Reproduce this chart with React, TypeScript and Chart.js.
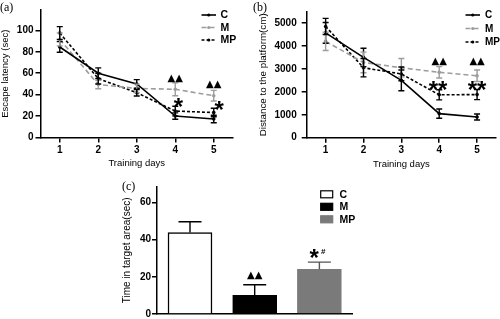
import React, { useEffect, useRef } from 'react';
import { Chart, registerables } from 'chart.js';

Chart.register(...registerables);

const SANS = '"Liberation Sans", Arial, sans-serif';
const SERIF = '"Liberation Serif", "Times New Roman", serif';

// ---------- data ----------
const trainingDays = ['1', '2', '3', '4', '5'];
const groupNames = ['C', 'M', 'MP'];

// (a) escape latency (sec)
const latencyC = [84.5, 60, 50, 20, 17.2];
const latencyM = [91.5, 49.5, 45.8, 45, 39];
const latencyMP = [97.5, 55, 41.8, 24.7, 23.3];
const latencyErrC = [5, 5, 4, 3, 3.5];
const latencyErrM = [6, 4, 4, 6, 5];
const latencyErrMP = [6, 5, 3, 4.5, 4];
const latencyTicks = [0, 20, 40, 60, 80, 100];
const latencyMax = 119;

// (b) distance to the platform (cm)
const distanceC = [4570, 3500, 2500, 1050, 900];
const distanceM = [4200, 3280, 3050, 2850, 2700];
const distanceMP = [4850, 3050, 2780, 1870, 1880];
const distanceErrC = [450, 400, 450, 200, 130];
const distanceErrM = [400, 450, 400, 250, 250];
const distanceErrMP = [350, 400, 300, 220, 220];
const distanceTicks = [0, 1000, 2000, 3000, 4000, 5000];
const distanceMax = 5480;

// (c) time in target area (sec)
const targetTime = [43.8, 10, 24.1];
const targetTimeErr = [5.8, 5.7, 3.8];
const targetTicks = [0, 20, 40, 60];
const targetMax = 68.5;

// significance marks (data coordinates)
const latencyMarks = [
  { x: 3, y: 55, text: '▲▲', kind: 'tri' },
  { x: 4, y: 49.8, text: '▲▲', kind: 'tri' },
  { x: 3.08, y: 33, text: '*', kind: 'star' },
  { x: 4.14, y: 29.6, text: '*', kind: 'star' },
];
const distanceMarks = [
  { x: 3, y: 3335, text: '▲▲', kind: 'tri' },
  { x: 4, y: 3335, text: '▲▲', kind: 'tri' },
  { x: 2.97, y: 2290, text: '**', kind: 'star' },
  { x: 4, y: 2290, text: '**', kind: 'star' },
];
const targetMarks = [
  { x: 1, y: 20.5, text: '▲▲', kind: 'tri' },
  { x: 1.92, y: 32.7, text: '*', kind: 'star' },
  { x: 2.06, y: 33.6, text: '#', kind: 'hash' },
];

// ---------- plugins ----------
const markFonts: Record<string, string> = {
  tri: '10px "DejaVu Sans", sans-serif',
  star: `bold 24px ${SANS}`,
  hash: `bold 8px ${SANS}`,
};

function marksPlugin(items: any[]) {
  return {
    id: 'marks',
    afterDatasetsDraw(chart: any) {
      const ctx = chart.ctx;
      const xs = chart.scales.x;
      const ys = chart.scales.y;
      ctx.save();
      items.forEach((m) => {
        ctx.font = markFonts[m.kind];
        ctx.fillStyle = '#000';
        ctx.textAlign = 'center';
        ctx.textBaseline = 'alphabetic';
        const px = xs.getPixelForValue(m.x);
        const py = ys.getPixelForValue(m.y);
        const mt = ctx.measureText(m.text);
        const asc = mt.actualBoundingBoxAscent;
        const desc = mt.actualBoundingBoxDescent;
        ctx.fillText(m.text, px, py + (asc - desc) / 2);
      });
      ctx.restore();
    },
  };
}

function errorBarPlugin(capHalf: number, upOnly: boolean) {
  return {
    id: 'errorBars',
    afterDatasetsDraw(chart: any) {
      const ctx = chart.ctx;
      chart.data.datasets.forEach((ds: any, di: number) => {
        const errs = ds.errorBars;
        if (!errs) return;
        const meta = chart.getDatasetMeta(di);
        const ys = chart.scales[meta.yAxisID];
        ctx.save();
        ctx.lineWidth = 1.4;
        ctx.setLineDash([]);
        meta.data.forEach((el: any, i: number) => {
          const raw = ds.data[i];
          const v = typeof raw === 'number' ? raw : raw.y;
          ctx.strokeStyle = Array.isArray(ds.errorColor) ? ds.errorColor[i] : ds.errorColor;
          const x = el.x;
          const yTop = ys.getPixelForValue(v + errs[i]);
          const yBot = upOnly ? ys.getPixelForValue(v) : ys.getPixelForValue(v - errs[i]);
          ctx.beginPath();
          ctx.moveTo(x, yTop);
          ctx.lineTo(x, yBot);
          ctx.moveTo(x - capHalf, yTop);
          ctx.lineTo(x + capHalf, yTop);
          if (!upOnly) {
            ctx.moveTo(x - capHalf, yBot);
            ctx.lineTo(x + capHalf, yBot);
          }
          ctx.stroke();
        });
        ctx.restore();
      });
    },
  };
}

function lineLegendPlugin(cfg: { x0: number; x1: number; textX: number; top: number; gap: number; font: string }) {
  return {
    id: 'lineLegend',
    afterDraw(chart: any) {
      const ctx = chart.ctx;
      ctx.save();
      chart.data.datasets.forEach((ds: any, i: number) => {
        const y = cfg.top + i * cfg.gap;
        ctx.strokeStyle = ds.borderColor;
        ctx.lineWidth = ds.borderWidth;
        ctx.setLineDash(ds.borderDash || []);
        ctx.beginPath();
        ctx.moveTo(cfg.x0, y);
        ctx.lineTo(cfg.x1, y);
        ctx.stroke();
        ctx.setLineDash([]);
        ctx.fillStyle = ds.borderColor;
        ctx.beginPath();
        ctx.arc((cfg.x0 + cfg.x1) / 2, y, 1.6, 0, Math.PI * 2);
        ctx.fill();
        ctx.fillStyle = '#000';
        ctx.font = cfg.font;
        ctx.textAlign = 'left';
        ctx.textBaseline = 'middle';
        ctx.fillText(ds.label, cfg.textX, y + 0.5);
      });
      ctx.restore();
    },
  };
}

function boxLegendPlugin(cfg: { x: number; w: number; h: number; textX: number; top: number; gap: number; font: string }) {
  return {
    id: 'boxLegend',
    afterDraw(chart: any) {
      const ctx = chart.ctx;
      const ds = chart.data.datasets[0];
      ctx.save();
      chart.data.labels.forEach((label: string, i: number) => {
        const y = cfg.top + i * cfg.gap;
        ctx.fillStyle = ds.backgroundColor[i];
        ctx.fillRect(cfg.x, y - cfg.h / 2, cfg.w, cfg.h);
        ctx.strokeStyle = ds.borderColor[i];
        ctx.lineWidth = 1.2;
        ctx.strokeRect(cfg.x, y - cfg.h / 2, cfg.w, cfg.h);
        ctx.fillStyle = '#000';
        ctx.font = cfg.font;
        ctx.textAlign = 'left';
        ctx.textBaseline = 'middle';
        ctx.fillText(label, cfg.textX, y + 0.5);
      });
      ctx.restore();
    },
  };
}

// ---------- axes ----------
const tickFont = { family: SANS, size: 10, weight: 'bold' };

function yAxis(tickVals: number[], max: number, title: string, width: number, titlePadTop: number, labelPad: number, titleSize: number) {
  return {
    type: 'linear',
    min: 0,
    max,
    afterBuildTicks: (s: any) => {
      s.ticks = tickVals.map((v) => ({ value: v }));
    },
    afterFit: (s: any) => {
      s.width = width;
    },
    ticks: { color: '#000', font: tickFont, padding: labelPad, callback: (v: any) => String(v) },
    grid: { drawOnChartArea: false, color: '#000', lineWidth: 1.5, tickLength: 5 },
    border: { color: '#000', width: 1.5 },
    title: {
      display: true,
      text: title,
      color: '#000',
      font: { family: SANS, size: titleSize },
      padding: { top: titlePadTop, bottom: 0 },
    },
  };
}

function dayAxis(height: number, titlePadBottom: number) {
  return {
    type: 'category',
    offset: true,
    afterFit: (s: any) => {
      s.height = height;
    },
    ticks: { color: '#000', font: tickFont, padding: 2, maxRotation: 0 },
    grid: { drawOnChartArea: false, color: '#000', lineWidth: 1.5, tickLength: 5, offset: false },
    border: { color: '#000', width: 1.5 },
    title: {
      display: true,
      text: 'Training days',
      color: '#000',
      font: { family: SANS, size: 9.5 },
      padding: { top: 0, bottom: titlePadBottom },
    },
  };
}

function lineSets(c: number[], m: number[], mp: number[], ec: number[], em: number[], emp: number[]) {
  const gray = '#9d9d9d';
  return [
    { label: groupNames[0], data: c, borderColor: '#000', backgroundColor: '#000', borderWidth: 1.6, pointRadius: 1.8, pointBorderWidth: 0, errorBars: ec, errorColor: '#000' },
    { label: groupNames[1], data: m, borderColor: gray, backgroundColor: gray, borderWidth: 1.6, borderDash: [5, 3], pointRadius: 1.8, pointBorderWidth: 0, errorBars: em, errorColor: gray },
    { label: groupNames[2], data: mp, borderColor: '#000', backgroundColor: '#000', borderWidth: 1.6, borderDash: [3, 2], pointRadius: 1.8, pointBorderWidth: 0, errorBars: emp, errorColor: '#000' },
  ];
}

const baseOptions = {
  responsive: false,
  animation: false,
  events: [],
  plugins: { legend: { display: false }, tooltip: { enabled: false }, title: { display: false } },
  elements: { line: { tension: 0 } },
};

function ChartCanvas({ width, height, left, top, make }: any) {
  const ref = useRef<HTMLCanvasElement | null>(null);
  useEffect(() => {
    const chart = new Chart(ref.current as HTMLCanvasElement, make());
    return () => chart.destroy();
  }, []);
  return (
    <canvas
      ref={ref}
      width={width}
      height={height}
      style={{ position: 'absolute', left, top, width, height, display: 'block' }}
    />
  );
}

const makeLatency = () => ({
  type: 'line',
  data: { labels: trainingDays, datasets: lineSets(latencyC, latencyM, latencyMP, latencyErrC, latencyErrM, latencyErrMP) },
  options: {
    ...baseOptions,
    layout: { padding: { top: 10, right: 17, left: 0, bottom: 0 } },
    scales: {
      x: dayAxis(37.5, 5.8),
      y: yAxis(latencyTicks, latencyMax, 'Escape latency (sec)', 40.5, 0, 2, 9.5),
    },
  },
  plugins: [
    errorBarPlugin(3, false),
    marksPlugin(latencyMarks),
    lineLegendPlugin({ x0: 201.5, x1: 216, textX: 220.5, top: 15, gap: 12.5, font: `bold 10.5px ${SANS}` }),
  ],
});

const makeDistance = () => ({
  type: 'line',
  data: { labels: trainingDays, datasets: lineSets(distanceC, distanceM, distanceMP, distanceErrC, distanceErrM, distanceErrMP) },
  options: {
    ...baseOptions,
    layout: { padding: { top: 12, right: 3, left: 0, bottom: 0 } },
    scales: {
      x: dayAxis(37.3, 5.3),
      y: yAxis(distanceTicks, distanceMax, 'Distance to the platform(cm)', 56.7, 7, 5, 9.8),
    },
  },
  plugins: [
    errorBarPlugin(3, false),
    marksPlugin(distanceMarks),
    lineLegendPlugin({ x0: 215.5, x1: 230, textX: 235, top: 15, gap: 13.5, font: `bold 10px ${SANS}` }),
  ],
});

const makeTarget = () => ({
  type: 'bar',
  data: {
    labels: groupNames,
    datasets: [
      {
        label: 'Time in target area',
        data: targetTime.map((v, i) => ({ x: i, y: v })),
        backgroundColor: ['#ffffff', '#000000', '#7a7a7a'],
        borderColor: ['#000000', '#000000', '#7a7a7a'],
        borderWidth: 1.5,
        barThickness: 44,
        errorBars: targetTimeErr,
        errorColor: ['#000000', '#000000', '#555555'],
      },
    ],
  },
  options: {
    ...baseOptions,
    layout: { padding: { top: 16.7, right: 8, left: 0, bottom: 0 } },
    scales: {
      x: {
        type: 'linear',
        offset: false,
        bounds: 'ticks',
        min: -0.51,
        max: 2.504,
        afterFit: (s: any) => {
          s.height = 6.7;
        },
        ticks: { display: false },
        grid: { display: false, offset: false },
        border: { color: '#000', width: 1.5 },
      },
      y: yAxis(targetTicks, targetMax, 'Time in target area(sec)', 57, 21, 1, 10),
    },
  },
  plugins: [
    errorBarPlugin(11.5, true),
    marksPlugin(targetMarks),
    boxLegendPlugin({ x: 220.7, w: 12, h: 7, textX: 239.5, top: 24.3, gap: 12.5, font: `bold 10.5px ${SANS}` }),
  ],
});

const panelLabel = (text: string, left: number, top: number) => (
  <div
    style={{
      position: 'absolute',
      left,
      top,
      fontFamily: SERIF,
      fontSize: 12,
      lineHeight: '14px',
      color: '#000',
      whiteSpace: 'nowrap',
    }}
  >
    {text}
  </div>
);

export default function App() {
  return (
    <div
      style={{
        position: 'fixed',
        left: 0,
        top: 0,
        width: 500,
        height: 319,
        overflow: 'hidden',
        background: '#fff',
      }}
    >
      <ChartCanvas width={250} height={175} left={0} top={0} make={makeLatency} />
      <ChartCanvas width={250} height={175} left={250} top={0} make={makeDistance} />
      <ChartCanvas width={260} height={151} left={100} top={170} make={makeTarget} />
      {panelLabel('(a)', 0, 0)}
      {panelLabel('(b)', 253, 0)}
      {panelLabel('(c)', 122, 178.5)}
    </div>
  );
}
